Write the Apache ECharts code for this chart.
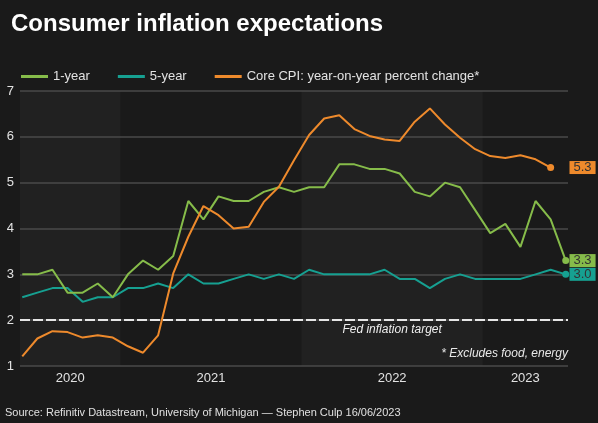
<!DOCTYPE html>
<html>
<head>
<meta charset="utf-8">
<script src="https://cdn.jsdelivr.net/npm/echarts@6/dist/echarts.min.js"></script>
<style>
html,body{margin:0;padding:0;background:#1a1a1a;}
#c{width:598px;height:423px;}
</style>
</head>
<body>
<div id="c"></div>
<script>
// Monthly observations, June 2020 .. June 2023
const months = [];
for (let i = 0; i < 37; i++) { const d = new Date(Date.UTC(2020, 5 + i, 1)); months.push(d.getUTCFullYear() + '-' + String(d.getUTCMonth()+1).padStart(2,'0')); }
const oneYear = [3.0,3.0,3.1,2.6,2.6,2.8,2.5,3.0,3.3,3.1,3.4,4.6,4.2,4.7,4.6,4.6,4.8,4.9,4.8,4.9,4.9,5.4,5.4,5.3,5.3,5.2,4.8,4.7,5.0,4.9,4.4,3.9,4.1,3.6,4.6,4.2,3.3];
const fiveYear = [2.5,2.6,2.7,2.7,2.4,2.5,2.5,2.7,2.7,2.8,2.7,3.0,2.8,2.8,2.9,3.0,2.9,3.0,2.9,3.1,3.0,3.0,3.0,3.0,3.1,2.9,2.9,2.7,2.9,3.0,2.9,2.9,2.9,2.9,3.0,3.1,3.0];
const coreCPI = [1.21,1.60,1.76,1.74,1.62,1.67,1.62,1.43,1.29,1.67,3.02,3.82,4.49,4.29,4.00,4.04,4.58,4.91,5.49,6.04,6.40,6.47,6.17,6.02,5.94,5.91,6.33,6.62,6.27,5.98,5.73,5.58,5.54,5.60,5.51,5.33];
const years = [2020, 2021, 2022, 2023];
const yTicks = [1,2,3,4,5,6,7];
const fedTarget = 2;

// x scale: months since Jan 2020 (a point sits mid-month)
function monthPos(ym){ const p = ym.split('-'); return (+p[0] - 2020) * 12 + (+p[1] - 1) + 0.5; }
const xMin = 5.35, xMax = 41.65;

function toPairs(arr){ return arr.map((v,i)=>[monthPos(months[i]), v]); }

const C_GREEN = '#86bc4a', C_TEAL = '#16a091', C_ORANGE = '#ee8a2c';

// year bands & label centres
const bandEdges = years.map(y => Math.max(xMin, (y - 2020) * 12));
bandEdges.push(xMax);
const yearCenters = years.map((y,i)=> (bandEdges[i] + bandEdges[i+1]) / 2);
const lightBands = [];
years.forEach((y,i)=>{ if (i % 2 === 0) lightBands.push([{xAxis: bandEdges[i]}, {xAxis: bandEdges[i+1]}]); });
function yearOf(v){ let best = 0; yearCenters.forEach((c,i)=>{ if (Math.abs(c - v) < Math.abs(yearCenters[best] - v)) best = i; }); return String(years[best]); }

function endMarks(arr, color){
  const last = arr.length - 1;
  return {
    silent: true,
    animation: false,
    data: [
      {coord: [monthPos(months[last]), arr[last]], symbol: 'circle', symbolSize: 7,
       itemStyle: {color: color}, label: {show: false}},
      {coord: [xMax, arr[last]], symbol: 'rect', symbolSize: [1,1],
       itemStyle: {color: 'rgba(0,0,0,0)'},
       label: {show: true, position: 'right', distance: 1, formatter: arr[last].toFixed(1),
               backgroundColor: color, color: '#333333', fontSize: 13,
               fontFamily: 'Liberation Sans, Arial, sans-serif', padding: [1,4,0,4], lineHeight: 12}}
    ]
  };
}

const chart = echarts.init(document.getElementById('c'), null, {renderer: 'canvas'});
chart.setOption({
  backgroundColor: '#1a1a1a',
  animation: false,
  textStyle: {fontFamily: 'Liberation Sans, Arial, sans-serif'},
  title: {
    text: 'Consumer inflation expectations',
    left: 6, top: 7,
    textStyle: {color: '#ffffff', fontSize: 24, fontWeight: 'bold', fontFamily: 'Liberation Sans, Arial, sans-serif'}
  },
  legend: {
    data: ['1-year','5-year','Core CPI: year-on-year percent change*'],
    left: 16, top: 65,
    icon: 'rect', itemWidth: 27, itemHeight: 3, itemGap: 28,
    textStyle: {color: '#e2e2e2', fontSize: 13}
  },
  grid: {left: 20, right: 30, top: 91, bottom: 57},
  xAxis: {
    type: 'value', min: xMin, max: xMax, z: 2,
    axisLine: {show: false},
    axisTick: {show: false},
    splitLine: {show: false},
    axisLabel: {
      customValues: yearCenters,
      formatter: v => yearOf(v),
      color: '#e2e2e2', fontSize: 13, margin: 6
    }
  },
  yAxis: {
    type: 'value', min: yTicks[0], max: yTicks[yTicks.length-1], interval: 1, z: 2,
    axisLine: {show: false}, axisTick: {show: false},
    axisLabel: {color: '#e2e2e2', fontSize: 13, margin: 6},
    splitLine: {lineStyle: {color: '#4a4a4a', width: 1.5}}
  },
  graphic: [
    {type: 'text', right: 30, top: 348, z: 20,
     style: {text: '* Excludes food, energy', fill: '#e8e8e8', font: 'italic 12px Liberation Sans, Arial, sans-serif'}},
    {type: 'text', left: 5, top: 407, z: 20,
     style: {text: 'Source: Refinitiv Datastream, University of Michigan \u2014 Stephen Culp 16/06/2023', fill: '#e0e0e0', font: '11px Liberation Sans, Arial, sans-serif'}}
  ],
  series: [
    {
      name: 'bands', type: 'line', data: [], z: 0, silent: true,
      markArea: {silent: true, z: 0, itemStyle: {color: '#212121'}, data: lightBands}
    },
    {
      name: 'target', type: 'line', data: [], z: 3, silent: true,
      markLine: {
        silent: true, symbol: 'none', z: 3,
        lineStyle: {color: '#e6e6e6', type: [10,3], width: 2},
        label: {show: false},
        data: [{yAxis: fedTarget}]
      },
      markPoint: {
        silent: true, z: 3,
        data: [{coord: [monthPos('2022-07') - 0.5, fedTarget], symbol: 'rect', symbolSize: [1,1],
          itemStyle: {color: 'rgba(0,0,0,0)'},
          label: {show: true, position: 'bottom', distance: 3, formatter: 'Fed inflation target',
                  color: '#eeeeee', fontSize: 12, fontStyle: 'italic'}}]
      }
    },
    {
      name: '5-year', type: 'line', data: toPairs(fiveYear), symbol: 'none', z: 4,
      lineStyle: {color: C_TEAL, width: 2}, itemStyle: {color: C_TEAL},
      markPoint: endMarks(fiveYear, C_TEAL)
    },
    {
      name: '1-year', type: 'line', data: toPairs(oneYear), symbol: 'none', z: 5,
      lineStyle: {color: C_GREEN, width: 2}, itemStyle: {color: C_GREEN},
      markPoint: endMarks(oneYear, C_GREEN)
    },
    {
      name: 'Core CPI: year-on-year percent change*', type: 'line', data: toPairs(coreCPI), symbol: 'none', z: 6,
      lineStyle: {color: C_ORANGE, width: 2}, itemStyle: {color: C_ORANGE},
      markPoint: endMarks(coreCPI, C_ORANGE)
    }
  ]
});
</script>
</body>
</html>
